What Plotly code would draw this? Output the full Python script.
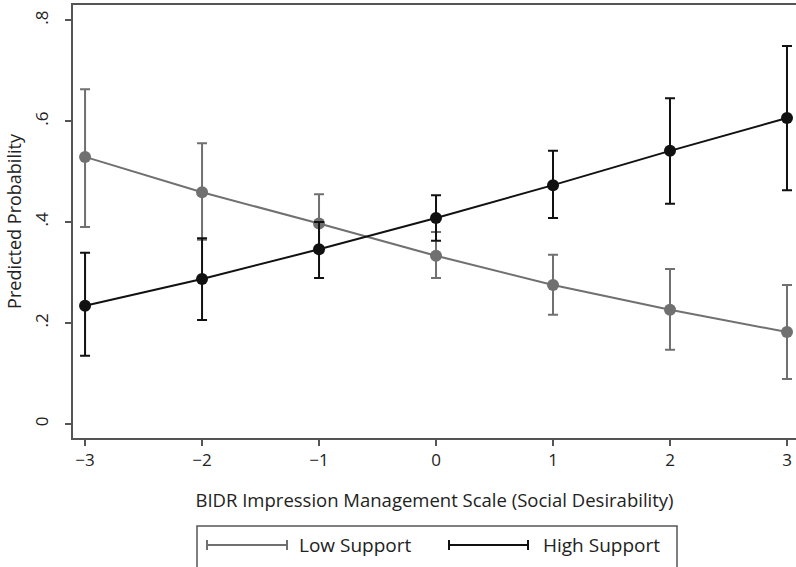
import plotly.graph_objects as go

x_vals = [-3, -2, -1, 0, 1, 2, 3]

low_name = "Low Support"
low_prob = [0.529, 0.459, 0.397, 0.333, 0.275, 0.226, 0.182]
low_upper = [0.663, 0.556, 0.455, 0.380, 0.335, 0.307, 0.275]
low_lower = [0.390, 0.365, 0.340, 0.289, 0.216, 0.147, 0.089]

high_name = "High Support"
high_prob = [0.234, 0.287, 0.346, 0.408, 0.473, 0.541, 0.606]
high_upper = [0.339, 0.368, 0.400, 0.453, 0.541, 0.645, 0.749]
high_lower = [0.135, 0.206, 0.289, 0.363, 0.408, 0.436, 0.463]

y_ticks = [0, 0.2, 0.4, 0.6, 0.8]
y_ticklabels = ["0", ".2", ".4", ".6", ".8"]

x_title = "BIDR Impression Management Scale (Social Desirability)"
y_title = "Predicted Probability"

LOW_COLOR = "#707070"
HIGH_COLOR = "#111111"
FONT = "Open Sans"

fig = go.Figure()

def add_series(name, prob, upper, lower, color):
    fig.add_trace(go.Scatter(
        x=x_vals, y=prob, mode="lines+markers", name=name,
        line=dict(color=color, width=2),
        marker=dict(color=color, size=12),
        error_y=dict(type="data", symmetric=False,
                     array=[u - p for u, p in zip(upper, prob)],
                     arrayminus=[p - l for p, l in zip(prob, lower)],
                     color=color, thickness=2, width=5),
        showlegend=False,
    ))

add_series(low_name, low_prob, low_upper, low_lower, LOW_COLOR)
add_series(high_name, high_prob, high_upper, high_lower, HIGH_COLOR)

# Manual legend (error-bar style keys) drawn in pixel-based paper coordinates
W, H = 796, 567
ml, mr, mt, mb = 73, 0, 5, 129
pw, ph = W - ml - mr, H - mt - mb

def px(xp):
    return (xp - ml) / pw

def py(yp):
    return (H - mb - yp) / ph

shapes = []
annotations = []
shapes.append(dict(type="rect", xref="paper", yref="paper",
                   x0=px(197), x1=px(677), y0=py(572), y1=py(526),
                   line=dict(color="#555555", width=1.5), fillcolor="white"))
legend_items = [(low_name, LOW_COLOR, 207, 287, 297), (high_name, HIGH_COLOR, 449, 528, 541)]
for name, color, xa, xb, xt in legend_items:
    yc = 545
    shapes.append(dict(type="line", xref="paper", yref="paper",
                       x0=px(xa), x1=px(xb), y0=py(yc), y1=py(yc),
                       line=dict(color=color, width=2)))
    for xe in (xa, xb):
        shapes.append(dict(type="line", xref="paper", yref="paper",
                           x0=px(xe), x1=px(xe), y0=py(yc - 5), y1=py(yc + 5),
                           line=dict(color=color, width=2)))
    annotations.append(dict(xref="paper", yref="paper", x=px(xt), y=py(yc),
                            text=name, showarrow=False, xanchor="left", yanchor="middle",
                            font=dict(family=FONT, size=19, color="#222222")))

fig.update_layout(
    width=W, height=H,
    margin=dict(l=ml, r=mr, t=mt, b=mb, pad=0),
    paper_bgcolor="white", plot_bgcolor="white",
    font=dict(family=FONT, size=17, color="#222222"),
    shapes=shapes, annotations=annotations,
    showlegend=False,
)
fig.update_xaxes(
    range=[-3.103, 3.077], tickvals=x_vals,
    showgrid=False, zeroline=False,
    showline=True, linecolor="#555555", linewidth=1.5, mirror=True,
    ticks="outside", ticklen=6, tickcolor="#555555", tickwidth=1.5,
    tickfont=dict(size=17),
    title=dict(text=x_title, font=dict(size=18.5), standoff=24),
)
fig.update_yaxes(
    range=[-0.028, 0.830], tickvals=y_ticks, ticktext=y_ticklabels,
    showgrid=False, zeroline=False,
    showline=True, linecolor="#555555", linewidth=1.5,
    ticks="outside", ticklen=6, tickcolor="#555555", tickwidth=1.5,
    tickangle=-90, tickfont=dict(size=17), ticklabelstandoff=10,
    title=dict(text=y_title, font=dict(size=18), standoff=4),
)

fig.write_html("out.html")
